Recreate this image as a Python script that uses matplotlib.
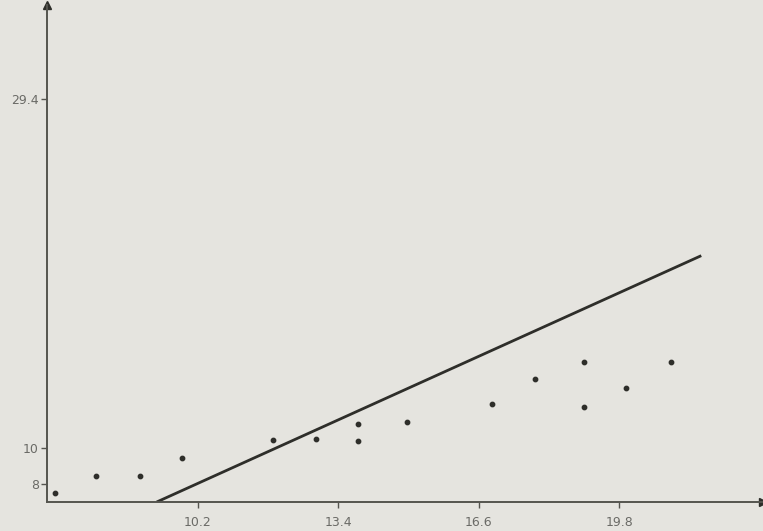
import matplotlib.pyplot as plt

# data
x_pts = [6.94, 7.87, 8.88, 9.83, 11.92, 12.89, 13.84, 13.84, 14.97, 16.91, 17.88, 18.99, 18.99, 19.95, 20.98]
y_pts = [7.52, 8.44, 8.44, 9.44, 10.43, 10.48, 11.35, 10.39, 11.43, 12.43, 13.82, 14.80, 12.28, 13.32, 14.80]
line_x = [9.26, 21.67]
line_y = [7.0, 20.68]
xticks = [10.2, 13.4, 16.6, 19.8]
yticks = [8, 10, 29.4]
ytick_labels = ['8', '10', '29.4']

bg = '#e5e4df'
ink = '#2e2e2a'
txt = '#6a6a66'

fig = plt.figure(figsize=(7.63, 5.31), dpi=100, facecolor=bg)
ax = fig.add_axes([0.0616, 0.0546, 0.938, 0.936], facecolor=bg)

xmin, xmax = 6.76, 23.07
ymin, ymax = 7.0, 34.6

ax.scatter(x_pts, y_pts, s=10, color=ink, zorder=3)
ax.plot(line_x, line_y, color=ink, lw=2.0, solid_capstyle='butt')

ax.set_xlim(xmin, xmax)
ax.set_ylim(ymin, ymax)

for side in ['top', 'right']:
    ax.spines[side].set_visible(False)
for side in ['left', 'bottom']:
    ax.spines[side].set_color('#55554f')
    ax.spines[side].set_linewidth(1.4)

# arrow heads at the axis ends
ax.plot([xmax], [ymin], marker='>', color=ink, ms=6, clip_on=False)
ax.plot([xmin], [ymax], marker='^', color=ink, ms=6, clip_on=False)

ax.set_xticks(xticks)
ax.set_xticklabels([str(v) for v in xticks])
ax.set_yticks(yticks)
ax.set_yticklabels(ytick_labels)
ax.tick_params(direction='out', length=4, width=1, color='#55554f',
               labelcolor=txt, labelsize=9)
ax.tick_params(axis='x', pad=6)
ax.tick_params(axis='y', pad=2)

fig.savefig('out.png', dpi=100, facecolor=bg)
